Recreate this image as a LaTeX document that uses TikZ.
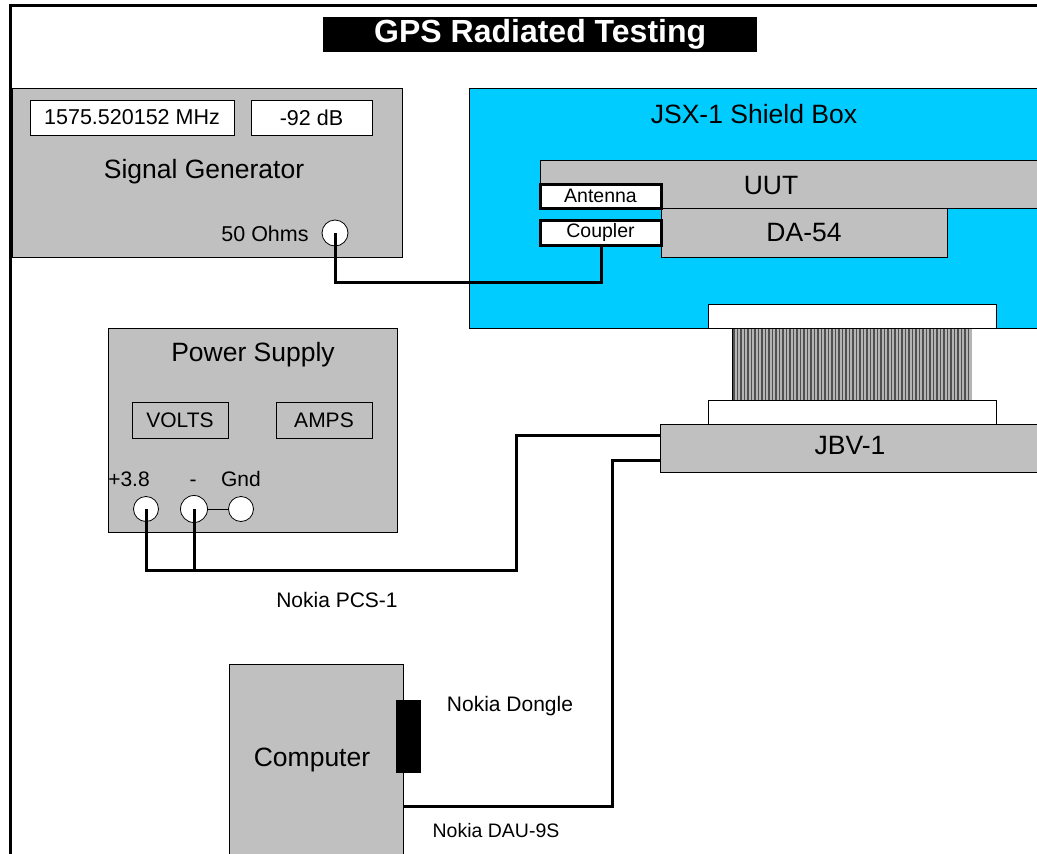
\documentclass[tikz,border=0pt]{standalone}
\usepackage{fontspec}
\setmainfont{Liberation Sans}
\definecolor{boxgray}{HTML}{C0C0C0}
\definecolor{shield}{HTML}{00CCFF}
\definecolor{ribdark}{HTML}{505050}
\definecolor{ribbg}{HTML}{B4B4B4}
\newcommand{\fs}[1]{\fontsize{#1}{#1}\selectfont}
\begin{document}
\begin{tikzpicture}[x=1pt,y=-1pt,
  equip/.style={draw=black, line width=0.8pt, fill=boxgray, anchor=north west, inner sep=0pt, outer sep=0pt},
  displaybox/.style={draw=black, line width=0.8pt, fill=white, anchor=north west, inner sep=0pt, outer sep=0pt, font=\fs{21.5}},
  meterbox/.style={draw=black, line width=1pt, anchor=north west, inner sep=0pt, outer sep=0pt, font=\fs{21}},
  portcircle/.style={draw=black, line width=0.8pt, fill=white, circle, inner sep=0pt, outer sep=0pt},
  tagbox/.style={draw=black, line width=3pt, fill=white, anchor=north west, inner sep=0pt, outer sep=0pt, font=\fs{19.5}},
  platebox/.style={draw=black, line width=0.8pt, fill=white, anchor=north west, inner sep=0pt, outer sep=0pt},
  wire/.style={draw=black, line width=3pt, line join=miter},
  midtext/.style={font=\fs{26.5}, inner sep=0pt},
  smalltext/.style={font=\fs{21}, inner sep=0pt}]
\useasboundingbox (0,0) rectangle (1037,854);
\fill[white] (0,0) rectangle (1037,854);
% frame
\draw[line width=3pt] (10,854) -- (10,5.5) -- (1040,5.5);
% title
\node[fill=black, anchor=north west, minimum width=434pt, minimum height=35pt, inner sep=0pt, text=white, font=\fs{32}\bfseries] (title) at (323,17) {GPS Radiated Testing};
% signal generator
\node[equip, minimum width=390pt, minimum height=169pt] (sg) at (12,88) {};
\node[displaybox, minimum width=204pt, minimum height=35pt] (freq) at (30,100) {1575.520152 MHz};
\node[displaybox, minimum width=121pt, minimum height=35pt] (level) at (251,100) {-92 dB};
\node[midtext] (sglabel) at (204,172) {Signal Generator};
\node[smalltext, font=\fs{21.5}] (ohms) at (265,234) {50 Ohms};
\node[portcircle, minimum size=26pt] (sgport) at (335,233) {};
% shield box
\node[draw=black, line width=0.8pt, fill=shield, anchor=north west, minimum width=580pt, minimum height=240pt, inner sep=0pt] (shieldbox) at (469,88) {};
\node[midtext] (shieldlabel) at (754,114) {JSX-1 Shield Box};
\node[equip, minimum width=510pt, minimum height=48pt] (uut) at (540,160) {};
\node[midtext] (uutlabel) at (771,186) {UUT};
\node[equip, minimum width=286pt, minimum height=49pt] (da) at (661,208) {};
\node[midtext] (dalabel) at (804,233) {DA-54};
\node[tagbox, minimum width=121pt, minimum height=24pt] (antenna) at (540,184) {Antenna};
\node[tagbox, minimum width=121pt, minimum height=25pt] (coupler) at (540,220) {Coupler};
% ribbon connector
\node[anchor=north west, fill=ribbg, minimum width=240pt, minimum height=72pt, inner sep=0pt, outer sep=0pt] (ribbon) at (732,328) {};
\foreach \x in {734,737.5,...,971} \draw[ribdark, line width=1.2pt] (\x,328) -- (\x,400);
\draw[black, line width=1pt] (ribbon.north west) -- (ribbon.south west);
\node[platebox, minimum width=288pt, minimum height=24pt] (topplate) at (708,304) {};
\node[platebox, minimum width=288pt, minimum height=24pt] (botplate) at (708,400) {};
\node[equip, minimum width=390pt, minimum height=48pt] (jbv) at (660,424) {};
\node[midtext] (jbvlabel) at (850,446) {JBV-1};
% power supply
\node[equip, minimum width=289pt, minimum height=204pt] (ps) at (108,328) {};
\node[midtext] (pslabel) at (253,355) {Power Supply};
\node[meterbox, minimum width=96pt, minimum height=36pt] (volts) at (132,402) {VOLTS};
\node[meterbox, minimum width=96pt, minimum height=36pt] (amps) at (276,402) {AMPS};
\node[smalltext, anchor=base] (plusl) at (129,486) {+3.8};
\node[smalltext, anchor=base] (minusl) at (193,486) {-};
\node[smalltext, anchor=base] (gndl) at (241,486) {Gnd};
\node[portcircle, minimum size=25pt] (psplus) at (146,509) {};
\node[portcircle, minimum size=27pt] (psminus) at (194,509) {};
\node[portcircle, minimum size=25pt] (psgnd) at (241,509) {};
\draw[line width=0.8pt] (psminus.east) -- (psgnd.west);
% computer
\node[equip, minimum width=174pt, minimum height=200pt] (pc) at (229,664) {};
\node[midtext] (pclabel) at (312,760) {Computer};
\node[fill=black, anchor=north west, minimum width=25pt, minimum height=73pt, inner sep=0pt] (dongle) at (396,700) {};
% cable labels
\node[smalltext] (donglel) at (510,706) {Nokia Dongle};
\node[smalltext] (pcsl) at (337,600) {Nokia PCS-1};
\node[smalltext, font=\fs{19.5}] (daul) at (496,831) {Nokia DAU-9S};
% wires
\coordinate (rfbend) at (601,282);
\draw[wire] (sgport.center) |- (rfbend) -- (rfbend |- coupler.south);
\coordinate (pcsbend) at (516,570);
\draw[wire] (psplus.center) |- (pcsbend) |- ([yshift=13pt]jbv.west);
\draw[wire] (psminus.center) -- (psminus.center |- pcsbend);
\coordinate (daubend) at (612,806);
\draw[wire] ([yshift=-12pt]jbv.west) -| (daubend) -- (daubend -| pc.east);
\end{tikzpicture}
\end{document}
